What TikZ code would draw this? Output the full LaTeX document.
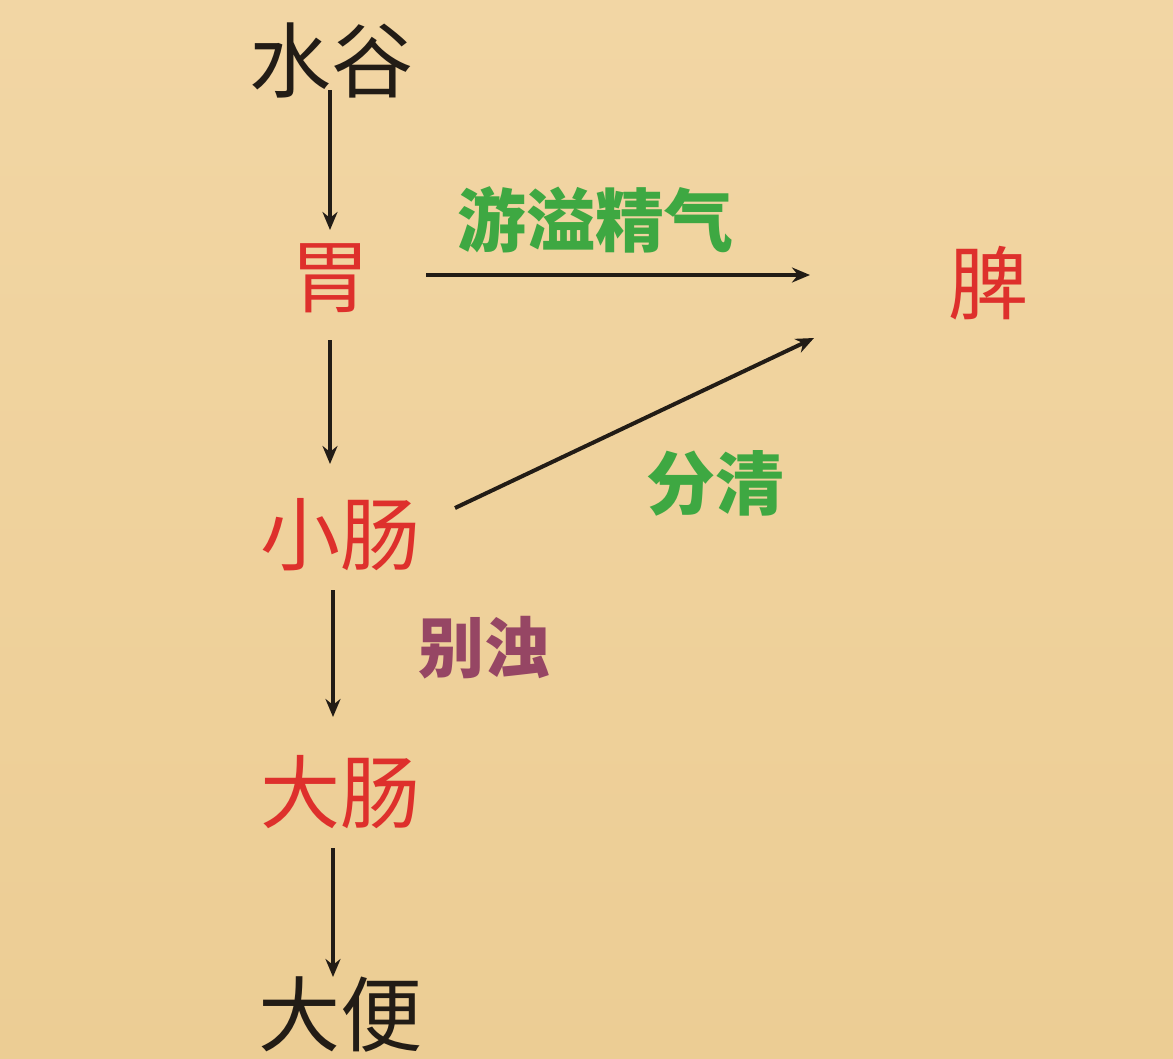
\documentclass[tikz,border=0pt]{standalone}
\usepackage{fontspec}
\newfontfamily\cjk{Noto Sans CJK SC}
\usetikzlibrary{arrows.meta}
\definecolor{bg}{RGB}{236,205,148}
\definecolor{bglight}{RGB}{242,214,164}
\definecolor{organred}{RGB}{222,48,44}
\definecolor{inkblack}{RGB}{34,28,22}
\definecolor{labelgreen}{RGB}{62,168,66}
\definecolor{labelpurple}{RGB}{150,70,100}
\tikzset{
  organ/.style={font=\cjk\fontsize{80}{80}\selectfont, text=organred, inner sep=0pt},
  endpt/.style={font=\cjk\fontsize{82}{82}\selectfont, text=inkblack, inner sep=0pt},
  flowlabel/.style={font=\cjk\bfseries\fontsize{69}{69}\selectfont, text=labelgreen, inner sep=0pt},
  sidelabel/.style={font=\cjk\bfseries\fontsize{66}{66}\selectfont, text=labelpurple, inner sep=0pt},
  flow/.style={draw=inkblack, line width=4pt, -{Stealth[length=18pt,width=15pt]}}
}
\begin{document}
\begin{tikzpicture}[x=1pt,y=-1pt]
\useasboundingbox (0,0) rectangle (1173,1058);
\shade[top color=bglight, bottom color=bg] (0,0) rectangle (1173,1058);
\fill[bglight, opacity=0.35] (600,120) ellipse (260 and 90);

\node[endpt] (shuigu) at (331,60) {水谷};
\node[organ] (wei) at (330,278) {胃};
\node[organ] (xiaochang) at (340,535) {小肠};
\node[organ] (dachang) at (340,792) {大肠};
\node[endpt] (dabian) at (340,1014) {大便};
\node[organ] (pi) at (988,283) {脾};

\node[flowlabel] (youyi) at (595,220) {游溢精气};
\node[flowlabel] (fenqing) at (715,483) {分清};
\node[sidelabel] (biezhuo) at (484,648) {别浊};

\coordinate (a1s) at (330,90);
\coordinate (a1e) at (330,230);
\coordinate (a2s) at (330,340);
\coordinate (a2e) at (330,464);
\coordinate (a3s) at (333,590);
\coordinate (a3e) at (333,717);
\coordinate (a4s) at (333,848);
\coordinate (a4e) at (333,977);
\coordinate (hs) at (426,275);
\coordinate (he) at (810,275);
\coordinate (ds) at (455,508);
\coordinate (de) at (814,338);

\draw[flow] (a1s) -- (a1e);
\draw[flow] (a2s) -- (a2e);
\draw[flow] (a3s) -- (a3e);
\draw[flow] (a4s) -- (a4e);
\draw[flow] (hs) -- (he);
\draw[flow] (ds) -- (de);
\end{tikzpicture}
\end{document}
